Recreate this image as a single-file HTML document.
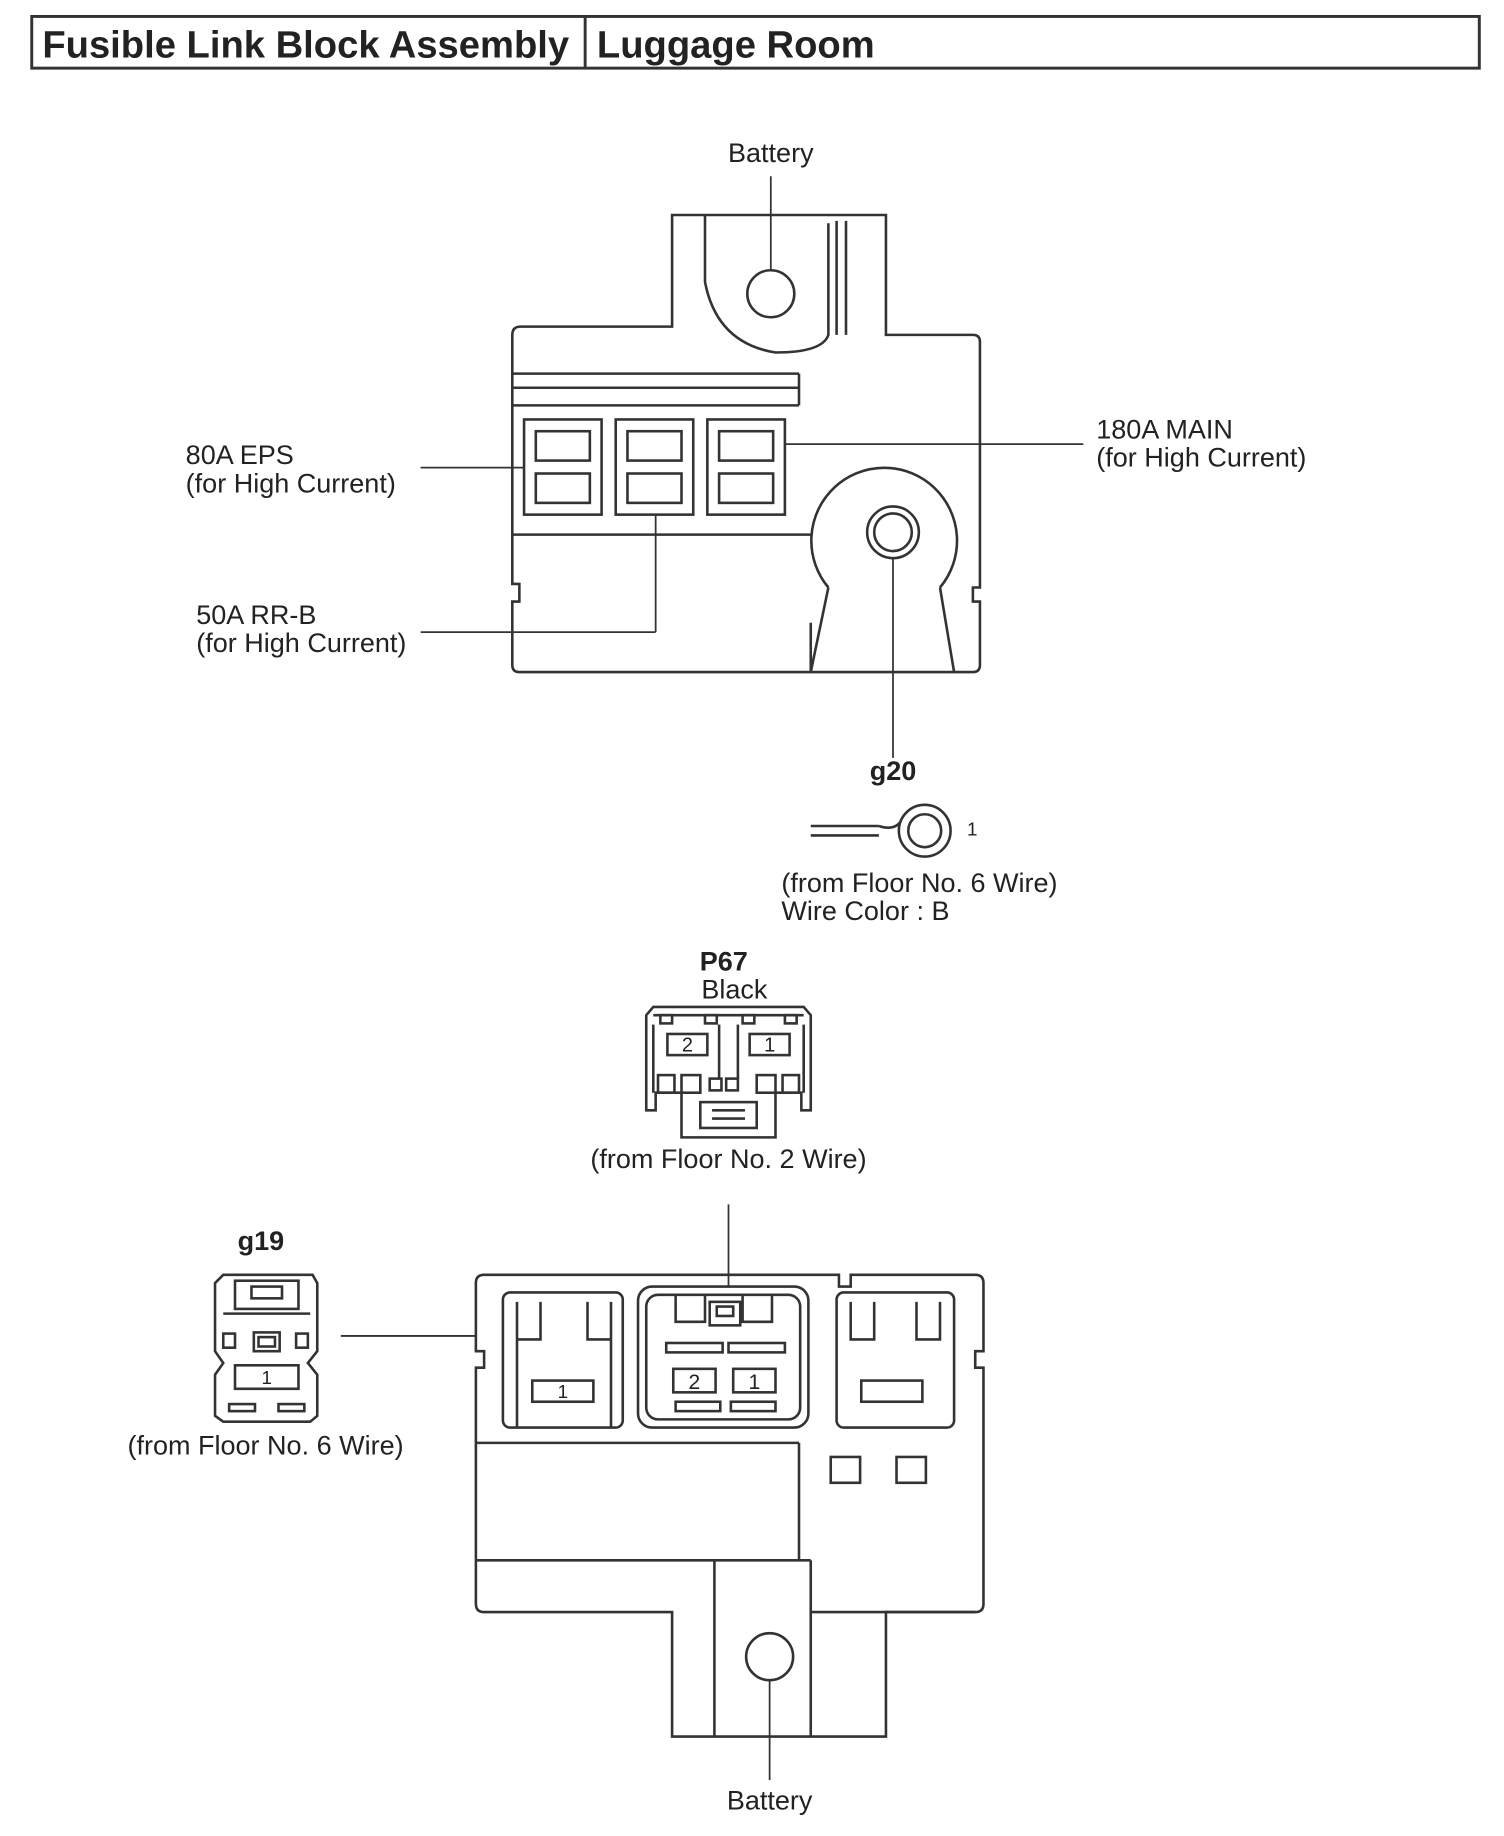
<!DOCTYPE html>
<html><head><meta charset="utf-8"><style>
html,body{margin:0;padding:0;background:#fff}
svg{display:block}
text{font-family:"Liberation Sans",sans-serif;fill:#222}
</style></head><body>
<svg width="1504" height="1836" viewBox="0 0 1280 1562.6" xmlns="http://www.w3.org/2000/svg">
<g fill="none" stroke="#333" stroke-width="2.2">
<rect x="27" y="14" width="1232" height="44" stroke-width="2.5"/>
<line x1="498" y1="14" x2="498" y2="58" stroke-width="2.5"/>

<path d="M572,183 L754,183 L754,285 L828,285 Q834,285 834,291 L834,500 L828,500 L828,512 L834,512 L834,566 Q834,572 828,572 L442,572 Q436,572 436,566 L436,512 L442,512 L442,497 L436,497 L436,285 Q436,278 443,278 L572,278 Z"/>
<path d="M600,183 L600,240 Q610,292 660,300 Q700,300 705,285 L705,190"/>
<line x1="712" y1="188" x2="712" y2="285"/>
<line x1="720" y1="188" x2="720" y2="285"/>
<circle cx="656" cy="250" r="20"/>
<line x1="436" y1="318" x2="680" y2="318"/>
<line x1="436" y1="330" x2="680" y2="330"/>
<line x1="680" y1="318" x2="680" y2="345"/>
<line x1="436" y1="345" x2="680" y2="345"/>
<line x1="436" y1="455" x2="690" y2="455"/>
<rect x="446" y="357" width="66" height="81"/>
<rect x="456" y="367" width="46" height="25"/><rect x="456" y="403" width="46" height="25"/>
<rect x="524" y="357" width="66" height="81"/>
<rect x="534" y="367" width="46" height="25"/><rect x="534" y="403" width="46" height="25"/>
<rect x="602" y="357" width="66" height="81"/>
<rect x="612" y="367" width="46" height="25"/><rect x="612" y="403" width="46" height="25"/>
<path d="M705,500 A62,62 0 1 1 800,500"/>
<circle cx="760" cy="453" r="22"/>
<circle cx="760" cy="453" r="16"/>
<line x1="705" y1="500" x2="690" y2="572"/>
<line x1="800" y1="500" x2="812" y2="572"/>
<line x1="690" y1="530" x2="690" y2="572"/>

<line x1="656" y1="150" x2="656" y2="230" stroke-width="1.5"/>
<line x1="358" y1="398" x2="446" y2="398" stroke-width="1.5"/>
<line x1="668" y1="378" x2="922" y2="378" stroke-width="1.5"/>
<line x1="358" y1="538" x2="558" y2="538" stroke-width="1.5"/>
<line x1="558" y1="438" x2="558" y2="538" stroke-width="1.5"/>
<line x1="760" y1="475" x2="760" y2="645" stroke-width="1.5"/>

<line x1="690" y1="703" x2="748" y2="703"/>
<line x1="690" y1="711" x2="748" y2="711"/>
<path d="M748,703 Q760,707 766,700"/>
<circle cx="787" cy="707" r="22"/>
<circle cx="787" cy="707" r="14"/>

<path d="M556,857 L684,857 L690,864 L690,945 L682,945 L682,930 L660,930 L660,968 L580,968 L580,930 L558,930 L558,945 L550,945 L550,864 Z"/>
<line x1="556" y1="864" x2="684" y2="864"/>
<rect x="562" y="864" width="10" height="7"/><rect x="600" y="864" width="10" height="7"/>
<rect x="632" y="864" width="10" height="7"/><rect x="668" y="864" width="10" height="7"/>
<line x1="556" y1="872" x2="556" y2="930"/><line x1="684" y1="872" x2="684" y2="930"/>
<rect x="568" y="880" width="34" height="18"/>
<rect x="638" y="880" width="34" height="18"/>
<line x1="612" y1="872" x2="612" y2="918"/><line x1="628" y1="872" x2="628" y2="918"/>
<rect x="560" y="915" width="14" height="15"/><rect x="580" y="915" width="16" height="15"/>
<rect x="604" y="918" width="10" height="10"/><rect x="618" y="918" width="10" height="10"/>
<rect x="644" y="915" width="16" height="15"/><rect x="666" y="915" width="14" height="15"/>
<rect x="596" y="938" width="48" height="22"/>
<line x1="606" y1="945" x2="634" y2="945"/><line x1="606" y1="952" x2="634" y2="952"/>

<path d="M190,1085 L266,1085 L270,1092 L270,1150 L262,1160 L270,1170 L270,1205 L264,1210 L190,1210 L183,1205 L183,1170 L190,1160 L183,1150 L183,1092 Z"/>
<rect x="200" y="1090" width="54" height="24"/>
<rect x="214" y="1095" width="26" height="10"/>
<rect x="190" y="1135" width="10" height="12"/><rect x="252" y="1135" width="10" height="12"/>
<rect x="216" y="1134" width="22" height="16"/>
<rect x="220" y="1138" width="14" height="8"/>
<line x1="190" y1="1118" x2="264" y2="1118"/>
<rect x="200" y="1162" width="54" height="20"/>
<rect x="195" y="1195" width="22" height="6"/><rect x="237" y="1195" width="22" height="6"/>

<path d="M412,1085 L714,1085 L714,1095 L724,1095 L724,1085 L830,1085 Q837,1085 837,1092 L837,1150 L830,1150 L830,1164 L837,1164 L837,1365 Q837,1372 830,1372 L754,1372 L754,1478 L572,1478 L572,1372 L412,1372 Q405,1372 405,1365 L405,1164 L412,1164 L412,1150 L405,1150 L405,1092 Q405,1085 412,1085 Z"/>
<line x1="405" y1="1228" x2="680" y2="1228"/>
<line x1="680" y1="1228" x2="680" y2="1328"/>
<line x1="405" y1="1328" x2="690" y2="1328"/>
<line x1="690" y1="1328" x2="690" y2="1372"/>
<line x1="690" y1="1372" x2="830" y2="1372"/>
<line x1="608" y1="1328" x2="608" y2="1478"/>
<line x1="690" y1="1372" x2="690" y2="1478"/>
<rect x="428" y="1100" width="102" height="115" rx="6"/>
<path d="M440,1108 L440,1140 L460,1140 L460,1108 M500,1108 L500,1140 L520,1140 L520,1108 M440,1140 L440,1215 M520,1140 L520,1215"/>
<rect x="453" y="1175" width="52" height="18"/>
<rect x="543" y="1095" width="145" height="120" rx="12"/>
<rect x="550" y="1102" width="131" height="106" rx="10"/>
<path d="M575,1102 L575,1125 L600,1125 L600,1102 M632,1102 L632,1125 L657,1125 L657,1102"/>
<rect x="604" y="1108" width="26" height="20"/>
<rect x="610" y="1112" width="14" height="8"/>
<rect x="567" y="1143" width="48" height="8"/><rect x="620" y="1143" width="48" height="8"/>
<rect x="573" y="1165" width="36" height="20"/><rect x="624" y="1165" width="36" height="20"/>
<rect x="575" y="1193" width="38" height="8"/><rect x="622" y="1193" width="38" height="8"/>
<rect x="712" y="1100" width="100" height="115" rx="6"/>
<path d="M724,1108 L724,1140 L744,1140 L744,1108 M780,1108 L780,1140 L800,1140 L800,1108"/>
<rect x="733" y="1175" width="52" height="18"/>
<rect x="707" y="1240" width="25" height="22"/><rect x="763" y="1240" width="25" height="22"/>
<circle cx="655" cy="1410" r="20"/>
<line x1="655" y1="1430" x2="655" y2="1515" stroke-width="1.5"/>
<line x1="290" y1="1137" x2="405" y2="1137" stroke-width="1.5"/>
<line x1="620" y1="1025" x2="620" y2="1095" stroke-width="1.5"/>
</g>

<text x="36" y="49" font-size="32.5" font-weight="bold">Fusible Link Block Assembly</text>
<text x="508" y="49" font-size="32.5" font-weight="bold">Luggage Room</text>
<g font-size="23">
<text x="656" y="138" text-anchor="middle">Battery</text>
<text x="158" y="395">80A EPS</text>
<text x="158" y="419">(for High Current)</text>
<text x="933" y="373">180A MAIN</text>
<text x="933" y="397">(for High Current)</text>
<text x="167" y="531">50A RR-B</text>
<text x="167" y="555">(for High Current)</text>
<text x="760" y="664" text-anchor="middle" font-weight="bold">g20</text>
<text x="823" y="711" font-size="16">1</text>
<text x="665" y="759">(from Floor No. 6 Wire)</text>
<text x="665" y="783">Wire Color : B</text>
<text x="616" y="826" text-anchor="middle" font-weight="bold">P67</text>
<text x="625" y="850" text-anchor="middle">Black</text>
<text x="585" y="895" text-anchor="middle" font-size="17">2</text>
<text x="655" y="895" text-anchor="middle" font-size="17">1</text>
<text x="620" y="994" text-anchor="middle">(from Floor No. 2 Wire)</text>
<text x="222" y="1064" text-anchor="middle" font-weight="bold">g19</text>
<text x="227" y="1178" text-anchor="middle" font-size="16">1</text>
<text x="226" y="1238" text-anchor="middle">(from Floor No. 6 Wire)</text>
<text x="479" y="1190" text-anchor="middle" font-size="16">1</text>
<text x="591" y="1182" text-anchor="middle" font-size="18">2</text>
<text x="642" y="1182" text-anchor="middle" font-size="18">1</text>
<text x="655" y="1540" text-anchor="middle">Battery</text>
</g>
</svg>
</body></html>
